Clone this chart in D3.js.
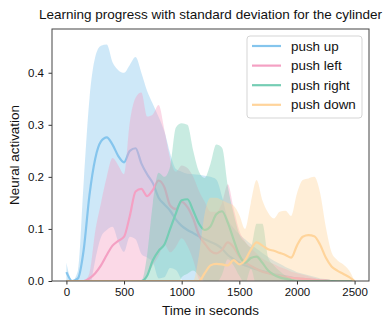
<!DOCTYPE html>
<html>
<head>
<meta charset="utf-8">
<script src="https://cdn.jsdelivr.net/npm/d3@7"></script>
<style>
  body { margin: 0; background: white; }
  text { font-family: "Liberation Sans", Arial, sans-serif; }
</style>
</head>
<body>
<div id="chart"></div>
<script>
// time axis (seconds), one sample every 50 s
var times = d3.range(0, 2501, 50);

var seriesNames = ["push up", "push left", "push right", "push down"];
var seriesColors = ["#85C5ED", "#F4A0C3", "#75CDB4", "#FFD49B"];

// mean activation per series
var pushUpMean = [0.017, 0, 0.005, 0.06, 0.165, 0.235, 0.268, 0.276, 0.262, 0.24,
  0.228, 0.25, 0.255, 0.226, 0.205, 0.188, 0.16, 0.147, 0.135, 0.118,
  0.106, 0.098, 0.092, 0.086, 0.08, 0.075, 0.07, 0.062, 0.05, 0.042,
  0.035, 0.03, 0.026, 0.022, 0.019, 0.016, 0.013, 0.011, 0.009, 0.007,
  0.005, 0.004, 0.003, 0.002, 0.001, 0.001, 0, 0, 0, 0, 0];
var pushLeftMean = [0, 0, 0, 0, 0.005, 0.015, 0.03, 0.05, 0.068, 0.077,
  0.085, 0.125, 0.172, 0.177, 0.163, 0.175, 0.193, 0.18, 0.145, 0.138,
  0.152, 0.142, 0.12, 0.088, 0.072, 0.058, 0.053, 0.06, 0.074, 0.065,
  0.047, 0.036, 0.029, 0.023, 0.018, 0.015, 0.012, 0.01, 0.008, 0.006,
  0.005, 0.004, 0.003, 0.002, 0.001, 0.001, 0, 0, 0, 0, 0];
var pushRightMean = [0, 0, 0, 0, 0, 0, 0, 0, 0, 0,
  0, 0, 0, 0, 0.01, 0.04, 0.058, 0.07, 0.1, 0.13,
  0.155, 0.157, 0.135, 0.11, 0.098, 0.105, 0.128, 0.134, 0.112, 0.08,
  0.05, 0.035, 0.044, 0.047, 0.035, 0.02, 0.012, 0.007, 0.004, 0.002,
  0, 0, 0, 0, 0, 0, 0, 0, 0, 0, 0];
var pushDownMean = [0, 0, 0, 0, 0, 0, 0, 0, 0, 0,
  0, 0, 0, 0, 0, 0, 0, 0, 0, 0,
  0, 0, 0, 0, 0.015, 0.03, 0.033, 0.032, 0.03, 0.04,
  0.032, 0.04, 0.06, 0.074, 0.068, 0.061, 0.058, 0.054, 0.05, 0.045,
  0.068, 0.085, 0.088, 0.086, 0.07, 0.045, 0.028, 0.02, 0.014, 0.008, 0];

// standard deviation per series
var pushUpStd = [0.018, 0, 0.015, 0.13, 0.185, 0.195, 0.184, 0.178, 0.158, 0.165,
  0.172, 0.165, 0.175, 0.174, 0.16, 0.152, 0.155, 0.14, 0.11, 0.097,
  0.104, 0.108, 0.113, 0.118, 0.122, 0.125, 0.125, 0.1, 0.07, 0.06,
  0.055, 0.05, 0.045, 0.04, 0.035, 0.03, 0.026, 0.022, 0.018, 0.015,
  0.012, 0.01, 0.008, 0.006, 0.004, 0.003, 0.002, 0, 0, 0, 0];
var pushLeftStd = [0, 0, 0, 0, 0.01, 0.08, 0.12, 0.15, 0.168, 0.145,
  0.12, 0.18, 0.18, 0.185, 0.153, 0.145, 0.145, 0.11, 0.09, 0.072,
  0.07, 0.075, 0.08, 0.085, 0.08, 0.075, 0.08, 0.09, 0.112, 0.075,
  0.05, 0.04, 0.035, 0.03, 0.025, 0.022, 0.02, 0.017, 0.015, 0.012,
  0.01, 0.008, 0.006, 0.004, 0.003, 0.002, 0, 0, 0, 0, 0];
var pushRightStd = [0, 0, 0, 0, 0, 0, 0, 0, 0, 0,
  0, 0, 0, 0, 0.04, 0.11, 0.15, 0.13, 0.12, 0.165,
  0.148, 0.143, 0.115, 0.1, 0.1, 0.12, 0.134, 0.122, 0.07, 0.05,
  0.04, 0.04, 0.021, 0.063, 0.075, 0.025, 0.018, 0.012, 0.006, 0.003,
  0, 0, 0, 0, 0, 0, 0, 0, 0, 0, 0];
var pushDownStd = [0, 0, 0, 0, 0, 0, 0, 0, 0, 0,
  0, 0, 0, 0, 0, 0, 0, 0, 0, 0,
  0, 0, 0, 0.05, 0.115, 0.13, 0.127, 0.123, 0.12, 0.105,
  0.095, 0.06, 0.09, 0.12, 0.087, 0.07, 0.062, 0.079, 0.085, 0.08,
  0.1, 0.109, 0.109, 0.114, 0.1, 0.059, 0.027, 0.02, 0.018, 0.013, 0];

var means = [pushUpMean, pushLeftMean, pushRightMean, pushDownMean];
var stds = [pushUpStd, pushLeftStd, pushRightStd, pushDownStd];

var xTicks = [0, 500, 1000, 1500, 2000, 2500];
var yTicks = [0, 0.1, 0.2, 0.3, 0.4];

var margin = {top: 29, right: 23, bottom: 46, left: 52},
    width = 392 - margin.left - margin.right,
    height = 327 - margin.top - margin.bottom;

var root = d3.select("#chart")
  .append("svg")
    .attr("width", 392)
    .attr("height", 327);

var svg = root.append("g")
    .attr("transform", "translate(" + margin.left + "," + margin.top + ")");

var pad = (d3.max(times) - d3.min(times)) * 0.05;
var x = d3.scaleLinear()
  .domain([d3.min(times) - pad, d3.max(times) + pad])
  .range([0, width]);

var y = d3.scaleLinear()
  .domain([0, 0.484])
  .range([height, 0]);

svg.append("clipPath")
    .attr("id", "plotClip")
  .append("rect")
    .attr("width", width)
    .attr("height", height);

var plot = svg.append("g").attr("clip-path", "url(#plotClip)");

means.forEach(function(m, i){
  var rows = times.map(function(t, j){
    return {t: t, mean: m[j], std: stds[i][j]};
  });

  plot.append("path")
    .datum(rows)
    .attr("fill", seriesColors[i])
    .attr("fill-opacity", 0.4)
    .attr("d", d3.area()
      .x(function(d) { return x(d.t) })
      .y0(function(d) { return y(d.mean - d.std) })
      .y1(function(d) { return y(d.mean + d.std) })
      .curve(d3.curveMonotoneX)
    );

  plot.append("path")
    .datum(rows)
    .attr("fill", "none")
    .attr("stroke", seriesColors[i])
    .attr("stroke-width", 2.2)
    .attr("d", d3.line()
      .x(function(d) { return x(d.t) })
      .y(function(d) { return y(d.mean) })
      .curve(d3.curveMonotoneX)
    );
});

// axes
var xAxis = svg.append("g")
  .attr("transform", "translate(0," + height + ")")
  .call(d3.axisBottom(x).tickValues(xTicks).tickSize(3.5).tickPadding(3.5).tickFormat(d3.format("d")));
var yAxis = svg.append("g")
  .call(d3.axisLeft(y).tickValues(yTicks).tickSize(3.5).tickPadding(4.5).tickFormat(d3.format(".1f")));

[xAxis, yAxis].forEach(function(a){
  a.select(".domain").remove();
  a.selectAll("line").attr("stroke", "#333");
  a.selectAll("text")
    .attr("fill", "#111")
    .style("font-size", "11.5px")
    .style("font-family", "'Liberation Sans', Arial, sans-serif");
});

// frame
svg.append("rect")
  .attr("width", width)
  .attr("height", height)
  .attr("fill", "none")
  .attr("stroke", "#444")
  .attr("stroke-width", 1);

// title and labels
root.append("text")
  .attr("x", margin.left + width / 2)
  .attr("y", 19)
  .attr("text-anchor", "middle")
  .style("font-size", "13.5px")
  .attr("fill", "#111")
  .text("Learning progress with standard deviation for the cylinder");

root.append("text")
  .attr("x", margin.left + width / 2)
  .attr("y", 315)
  .attr("text-anchor", "middle")
  .style("font-size", "13.4px")
  .attr("fill", "#111")
  .text("Time in seconds");

root.append("text")
  .attr("transform", "translate(19," + (margin.top + height / 2) + ")rotate(-90)")
  .attr("text-anchor", "middle")
  .style("font-size", "13.4px")
  .attr("fill", "#111")
  .text("Neural activation");

// legend
var legend = root.append("g").attr("transform", "translate(247,36)");
legend.append("rect")
  .attr("width", 115)
  .attr("height", 82)
  .attr("rx", 3)
  .attr("fill", "white")
  .attr("fill-opacity", 0.8)
  .attr("stroke", "#d5d5d5");

var items = legend.selectAll(".item")
  .data(seriesNames)
  .enter()
  .append("g")
  .attr("transform", function(d, i){ return "translate(0," + (10 + i * 19.6) + ")" });

items.append("line")
  .attr("x1", 5)
  .attr("x2", 34)
  .attr("stroke", function(d, i){ return seriesColors[i] })
  .attr("stroke-width", 2.2);

items.append("text")
  .attr("x", 44)
  .attr("y", 4.5)
  .style("font-size", "13.4px")
  .attr("fill", "#111")
  .text(function(d){ return d });
</script>
</body>
</html>
